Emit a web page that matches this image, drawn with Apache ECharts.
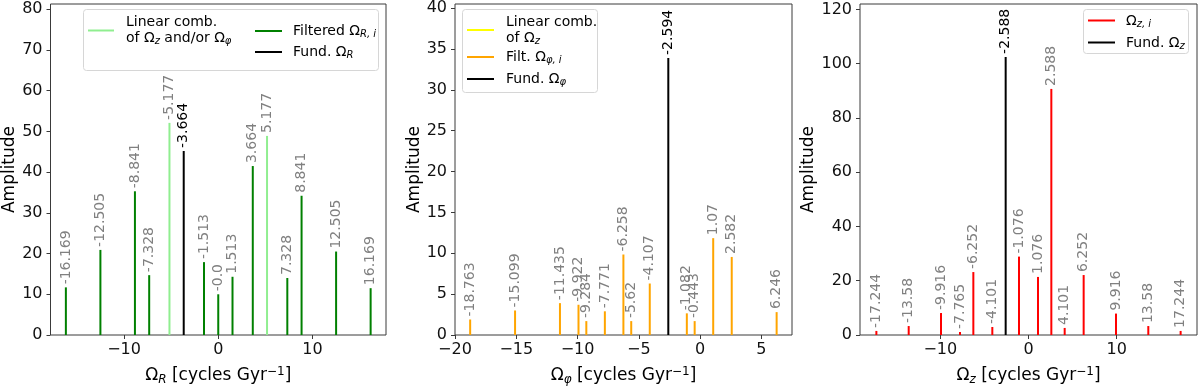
<!DOCTYPE html>
<html><head><meta charset="utf-8">
<script src="https://cdn.jsdelivr.net/npm/echarts@6/dist/echarts.min.js"></script>
<style>html,body{margin:0;padding:0;background:#fff}#c{width:1200px;height:386px}</style>
</head><body><div id="c"></div>
<script>
// ---------- Panel 1: Omega_R ----------
const rLinFreq  = [-5.177, 5.177];
const rLinAmp   = [52.1, 48.9];
const rFiltFreq = [-16.169, -12.505, -8.841, -7.328, -1.513, -0.0, 1.513, 3.664, 7.328, 8.841, 12.505, 16.169];
const rFiltAmp  = [11.7, 20.9, 35.3, 14.7, 17.9, 10.0, 14.3, 41.5, 14.0, 34.2, 20.5, 11.5];
const rFundFreq = [-3.664];
const rFundAmp  = [45.2];
const rXTicks = [-10, 0, 10];
const rYTicks = [0, 10, 20, 30, 40, 50, 60, 70, 80];

// ---------- Panel 2: Omega_phi ----------
const pLinFreq  = [];
const pLinAmp   = [];
const pFiltFreq = [-18.763, -15.099, -11.435, -9.922, -9.284, -7.771, -6.258, -5.62, -4.107, -1.082, -0.443, 1.07, 2.582, 6.246];
const pFiltAmp  = [1.9, 3.0, 3.9, 3.7, 1.7, 2.9, 9.85, 1.7, 6.3, 2.65, 1.7, 11.85, 9.55, 2.8];
const pFundFreq = [-2.594];
const pFundAmp  = [33.9];
const pXTicks = [-20, -15, -10, -5, 0, 5];
const pYTicks = [0, 5, 10, 15, 20, 25, 30, 35, 40];

// ---------- Panel 3: Omega_z ----------
const zFiltFreq = [-17.244, -13.58, -9.916, -7.765, -6.252, -4.101, -1.076, 1.076, 2.588, 4.101, 6.252, 9.916, 13.58, 17.244];
const zFiltAmp  = [1.5, 3.3, 8.1, 1.1, 23.2, 2.95, 28.9, 21.4, 90.7, 2.6, 22.1, 7.9, 3.3, 1.5];
const zFundFreq = [-2.588];
const zFundAmp  = [102.5];
const zXTicks = [-10, 0, 10];
const zYTicks = [0, 20, 40, 60, 80, 100, 120];

const FONT = 'DejaVu Sans';
const AX = '#3a3a3a';
const chart = echarts.init(document.getElementById('c'), null, {renderer: 'canvas'});

const fmtNum = v => Object.is(v, -0) ? '-0.0' : String(v);
const fmtTick = v => (v < 0 ? '\u2212' + (-v) : String(v));

const grids = [
  {left: 50.5, top: 4, width: 335.5, height: 331},
  {left: 455, top: 4, width: 337, height: 331},
  {left: 860, top: 4, width: 337, height: 331}
];
const xr = [[-17.8, 17.8], [-20, 7.5], [-19.1, 19.1]];
const yr = [81.3, 40.5, 122];
const xt = [rXTicks, pXTicks, zXTicks];
const yt = [rYTicks, pYTicks, zYTicks];
const subs = ['R', '\u03c6', 'z'];
const yGap = [28, 30, 35];

const nameRich = {
  a: {fontSize: 17, lineHeight: 20, fontFamily: FONT, color: '#000'},
  s: {fontSize: 12, lineHeight: 10, verticalAlign: 'bottom', fontStyle: 'italic', fontFamily: FONT, color: '#000'},
  p: {fontSize: 12, lineHeight: 10, verticalAlign: 'top', fontFamily: FONT, color: '#000'}
};

const xAxis = [], yAxis = [];
for (let i = 0; i < 3; i++) {
  xAxis.push({
    type: 'value', gridIndex: i, min: xr[i][0], max: xr[i][1],
    name: '{a|\u03a9}{s|' + subs[i] + '}{a| [cycles Gyr}{p|\u22121}{a|]}',
    nameLocation: 'middle', nameGap: 31,
    nameTextStyle: {rich: nameRich, fontSize: 17, fontFamily: FONT},
    axisLine: {show: false, onZero: false},
    axisTick: {show: true, length: 4, lineStyle: {color: AX, width: 1}, customValues: xt[i]},
    axisLabel: {customValues: xt[i], formatter: fmtTick, fontSize: 16, fontFamily: FONT, color: '#111', margin: 7},
    splitLine: {show: false}
  });
  yAxis.push({
    type: 'value', gridIndex: i, min: 0, max: yr[i],
    name: 'Amplitude', nameLocation: 'middle', nameGap: yGap[i],
    nameTextStyle: {fontSize: 17, fontFamily: FONT, color: '#000'},
    axisLine: {show: false, onZero: false},
    axisTick: {show: true, length: 4, lineStyle: {color: AX, width: 1}, customValues: yt[i]},
    axisLabel: {customValues: yt[i], formatter: fmtTick, fontSize: 16, fontFamily: FONT, color: '#111', margin: 8},
    splitLine: {show: false}
  });
}

function stems(i, freq, amp, color, labelColor) {
  return {
    type: 'bar', xAxisIndex: i, yAxisIndex: i,
    data: freq.map((f, k) => [f, amp[k]]),
    barWidth: 2, barGap: '-100%',
    itemStyle: {color: color},
    label: {
      show: true, position: 'top', rotate: 90, align: 'left', verticalAlign: 'middle',
      distance: 3, color: labelColor, fontSize: 14, fontFamily: FONT,
      formatter: p => fmtNum(p.value[0])
    },
    emphasis: {disabled: true},
    z: 3
  };
}

const series = [
  stems(0, rFiltFreq, rFiltAmp, '#008000', '#808080'),
  stems(0, rLinFreq, rLinAmp, '#90ee90', '#808080'),
  stems(0, rFundFreq, rFundAmp, '#000000', '#000000'),
  stems(1, pLinFreq, pLinAmp, '#ffff00', '#808080'),
  stems(1, pFiltFreq, pFiltAmp, '#ffa500', '#808080'),
  stems(1, pFundFreq, pFundAmp, '#000000', '#000000'),
  stems(2, zFiltFreq, zFiltAmp, '#ff0000', '#808080'),
  stems(2, zFundFreq, zFundAmp, '#000000', '#000000')
];

// ---------- legends (drawn as graphics) ----------
const legRich = {
  s: {fontSize: 10, lineHeight: 8, verticalAlign: 'bottom', fontStyle: 'italic', fontFamily: FONT, fill: '#000'}
};
function box(x, y, w, h) {
  return {type: 'rect', z: 100, shape: {x: x, y: y, width: w, height: h, r: 3},
    style: {fill: 'rgba(255,255,255,0.85)', stroke: '#d6d6d6', lineWidth: 1}};
}
function lline(x1, x2, y, c) {
  return {type: 'line', z: 101, shape: {x1: x1, y1: y, x2: x2, y2: y}, style: {stroke: c, lineWidth: 2}};
}
function ltext(x, y, t) {
  return {type: 'text', z: 101, x: x, y: y,
    style: {text: t, rich: legRich, fill: '#000', fontSize: 14, fontFamily: FONT, lineHeight: 16, verticalAlign: 'middle', align: 'left'}};
}
const graphic = [
  box(83.5, 9.5, 295, 61),
  lline(88, 114, 30.5, '#90ee90'),
  ltext(126, 30, 'Linear comb.\nof \u03a9{s|z} and/or \u03a9{s|\u03c6}'),
  lline(255, 282, 31, '#008000'),
  ltext(293, 31.5, 'Filtered \u03a9{s|R, i}'),
  lline(255, 282, 52, '#000000'),
  ltext(293, 52.5, 'Fund. \u03a9{s|R}'),

  box(462.5, 9.5, 135, 83),
  lline(467, 494, 30, '#ffff00'),
  ltext(506, 30, 'Linear comb.\nof \u03a9{s|z}'),
  lline(467, 494, 57, '#ffa500'),
  ltext(506, 57.5, 'Filt. \u03a9{s|\u03c6, i}'),
  lline(467, 494, 79, '#000000'),
  ltext(506, 79.5, 'Fund. \u03a9{s|\u03c6}'),

  box(1083.5, 9.5, 105, 44),
  lline(1088, 1115, 20.5, '#ff0000'),
  ltext(1126, 21, '\u03a9{s|z, i}'),
  lline(1088, 1115, 42.5, '#000000'),
  ltext(1126, 43, 'Fund. \u03a9{s|z}')
];

const gridOpts = grids.map(g => Object.assign({show: true, borderColor: AX, borderWidth: 1, backgroundColor: 'transparent', containLabel: false, outerBoundsMode: 'none'}, g));

chart.setOption({
  animation: false,
  textStyle: {fontFamily: FONT},
  grid: gridOpts,
  xAxis: xAxis,
  yAxis: yAxis,
  series: series,
  graphic: graphic
});
</script></body></html>
